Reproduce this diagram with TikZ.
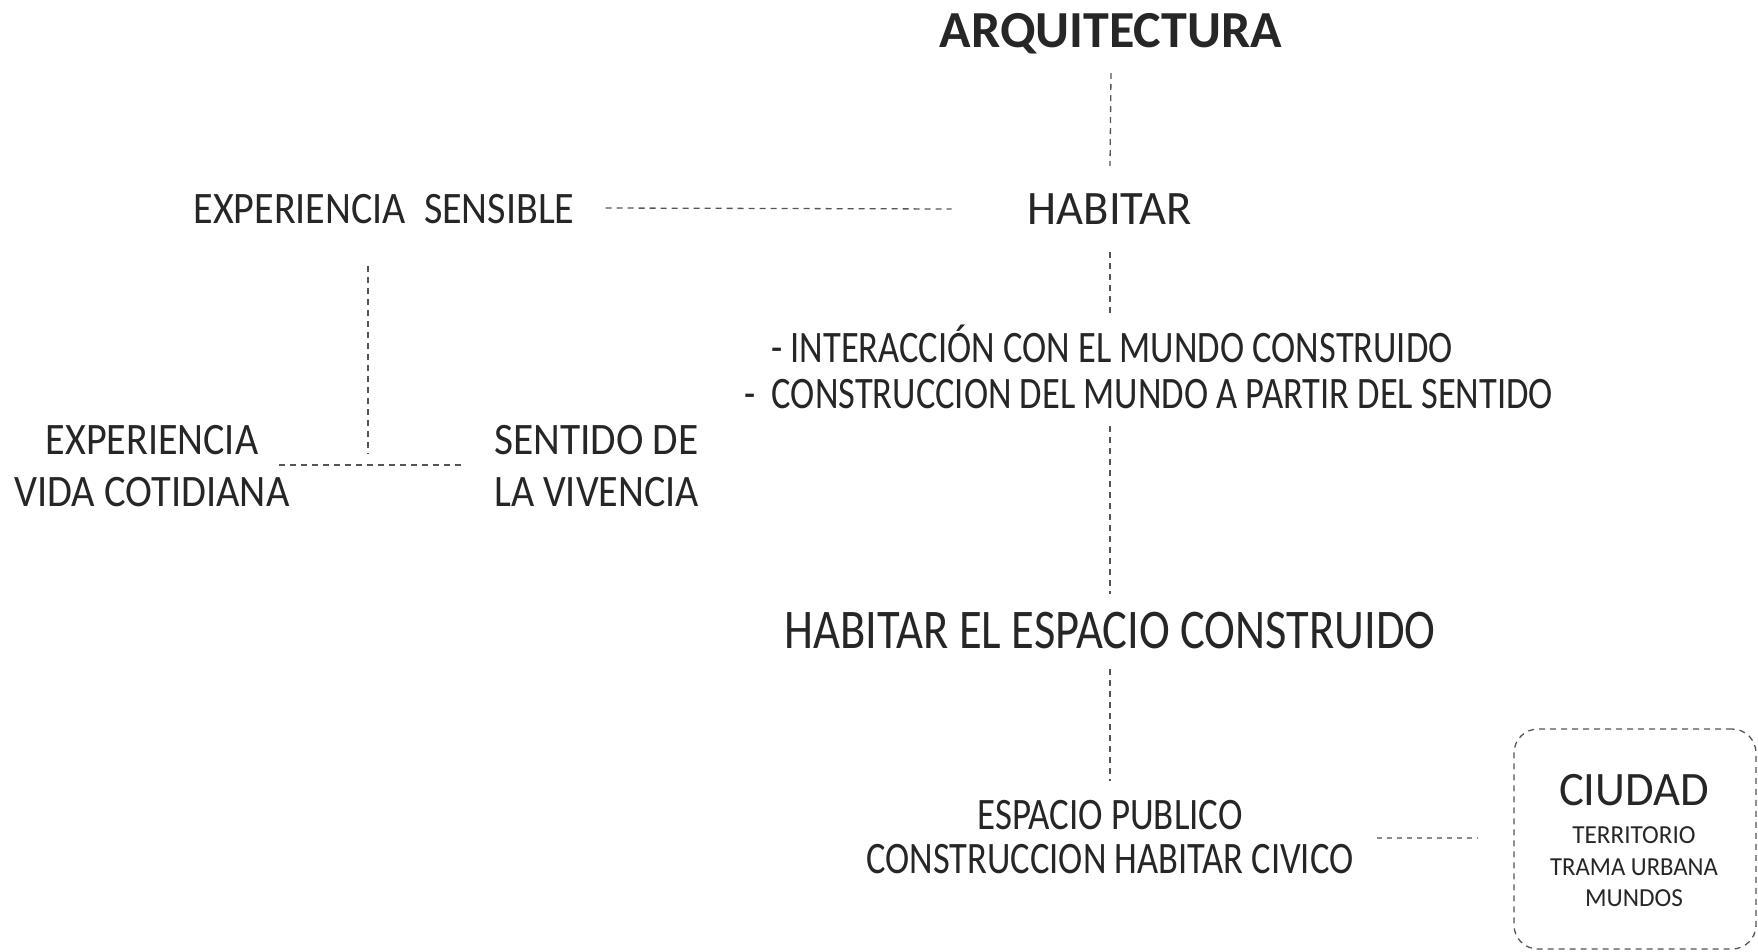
\documentclass[tikz,border=0pt]{standalone}
\usepackage{fontspec}
\usepackage{graphicx}
\setmainfont{Carlito}
\usetikzlibrary{calc}
\definecolor{tcol}{HTML}{262626}
\definecolor{lcol}{HTML}{555555}
\definecolor{lcol2}{HTML}{8A8A8A}
\newcommand{\sxq}[2]{\scalebox{#1}[1]{#2}}
\begin{document}
\begin{tikzpicture}[x=1pt,y=-1pt,
  txt/.style={inner sep=0pt, text=tcol, anchor=base},
  txtw/.style={inner sep=0pt, text=tcol, anchor=base west},
  fA/.style={font=\fontsize{45}{52}\selectfont},
  fB/.style={font=\fontsize{48}{56}\selectfont},
  fC/.style={font=\fontsize{56}{64}\selectfont},
  fS/.style={font=\fontsize{26}{30}\selectfont},
  conn/.style={draw=lcol, line width=1.3pt, dash pattern=on 6pt off 5pt},
  connlight/.style={draw=lcol2, line width=1.3pt, dash pattern=on 5pt off 5pt},
  boxstyle/.style={draw=lcol, line width=1.3pt, dash pattern=on 6pt off 5pt, rounded corners=24pt, minimum width=242pt, minimum height=220pt, inner sep=0pt}
]
\useasboundingbox (0,0) rectangle (1758,951);
% nodes
\node[txt, font=\fontsize{52}{60}\selectfont\bfseries] (arq) at (1111,47) {ARQUITECTURA};
\node[txt, fB] (hab) at (1110,224) {\sxq{0.97}{HABITAR}};
\node[txt, fA] (exps) at (384,223) {\sxq{0.89}{EXPERIENCIA\ \ SENSIBLE}};
\node[txtw, fA] (int) at (771,362) {\sxq{0.81}{- INTERACCIÓN CON EL MUNDO CONSTRUIDO}};
\node[txtw, fA] (cons) at (744,408) {\sxq{0.81}{-\ \ CONSTRUCCION DEL MUNDO A PARTIR DEL SENTIDO}};
\node[txt, fC] (hesp) at (1110,648) {\sxq{0.83}{HABITAR EL ESPACIO CONSTRUIDO}};
\node[txt, fA] (esp1) at (1110,829) {\sxq{0.82}{ESPACIO PUBLICO}};
\node[txt, fA] (esp2) at (1110,873) {\sxq{0.81}{CONSTRUCCION HABITAR CIVICO}};
\node[boxstyle] (box) at (1635,839) {};
\node[txt, fB] (ciu) at (1634,805) {\sxq{0.97}{CIUDAD}};
\node[txt, fS] (ter) at (1634,843) {\sxq{0.97}{TERRITORIO}};
\node[txt, fS] (tra) at (1634,875) {\sxq{0.95}{TRAMA URBANA}};
\node[txt, fS] (mun) at (1634,906) {\sxq{0.97}{MUNDOS}};
\node[txt, fA] (exp1) at (152,454) {\sxq{0.89}{EXPERIENCIA}};
\node[txt, fA] (exp2) at (152,506) {\sxq{0.90}{VIDA COTIDIANA}};
\node[txtw, fA] (sen1) at (494,454) {\sxq{0.92}{SENTIDO DE}};
\node[txtw, fA] (sen2) at (494,506) {\sxq{0.89}{LA VIVENCIA}};
\coordinate (tj) at (368,465);
% connectors
\draw[conn] ($(arq.base)+(0,26)$) -- ($(hab.base)+(0,-58)$);
\draw[conn] ($(hab.base)+(0,28)$) -- ($(hab.base |- int.base)+(0,-48)$);
\draw[conn] ($(hab.base |- cons.base)+(0,18)$) -- ($(hesp.base)+(0,-54)$);
\draw[conn] ($(hesp.base)+(0,21)$) -- ($(esp1.base)+(0,-48)$);
\draw[conn] ($(exps.base east)+(31,-15)$) -- ($(hab.base west)+(-76,-15)$);
\draw[conn] ($(tj |- exps.base)+(0,43)$) -- ($(tj)+(0,-11)$);
\draw[conn] ($(tj -| exp2.east)+(-11,0)$) -- ($(tj -| sen1.west)+(-31,0)$);
\draw[connlight] ($(esp2.base east)+(23,-35)$) -- ($(box.west |- esp2.base)+(-36,-35)$);
\end{tikzpicture}
\end{document}
